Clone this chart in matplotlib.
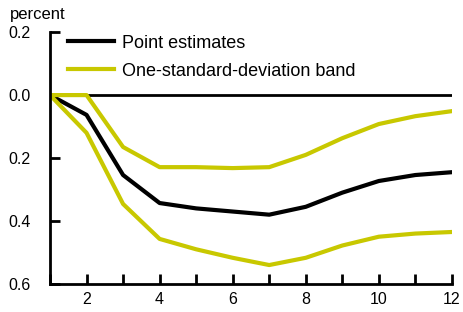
import numpy as np
import matplotlib
matplotlib.use("Agg")
from matplotlib import pyplot as plt
from matplotlib.ticker import FuncFormatter

plt.rcParams['font.family'] = ['Liberation Sans', 'DejaVu Sans']

horizon = [1, 2, 3, 4, 5, 6, 7, 8, 9, 10, 11, 12]
point = [0.0, -0.063, -0.254, -0.343, -0.36, -0.37, -0.38, -0.355, -0.31, -0.273, -0.254, -0.245]
upper = [0.0, 0.0, -0.165, -0.229, -0.229, -0.232, -0.229, -0.19, -0.137, -0.092, -0.067, -0.051]
lower = [0.0, -0.12, -0.346, -0.457, -0.49, -0.517, -0.54, -0.517, -0.478, -0.45, -0.44, -0.435]

band_col = "#c8c800"

fig = plt.figure(figsize=(4.63, 3.12), dpi=100)
ax = fig.add_axes([0.108, 0.09, 0.868, 0.807])

ax.axhline(0, color="black", lw=2)
ax.plot(horizon, point, color="black", lw=3, label="Point estimates")
ax.plot(horizon, upper, color=band_col, lw=3, label="One-standard-deviation band")
ax.plot(horizon, lower, color=band_col, lw=3)

ax.set_xlim(1, 12)
ax.set_ylim(-0.6, 0.2)
ax.set_xticks(range(1, 13))
ax.set_xticklabels(["" if v % 2 else str(v) for v in range(1, 13)])
ax.set_yticks([0.2, 0.0, -0.2, -0.4, -0.6])
ax.yaxis.set_major_formatter(FuncFormatter(lambda v, p: f"{abs(v):.1f}"))

for s in ["top", "right"]:
    ax.spines[s].set_visible(False)
for s in ["left", "bottom"]:
    ax.spines[s].set_linewidth(2)
ax.tick_params(direction="in", length=7, width=2, labelsize=11.5, colors="black", pad=6)
ax.tick_params(axis="y", pad=14)

ax.legend(loc="upper left", frameon=False, fontsize=13, handlelength=2.55,
          handletextpad=0.45, bbox_to_anchor=(0.005, 1.055), labelspacing=0.62)

fig.text(0.022, 0.94, "percent", fontsize=12)

fig.savefig("out.png", dpi=100)
